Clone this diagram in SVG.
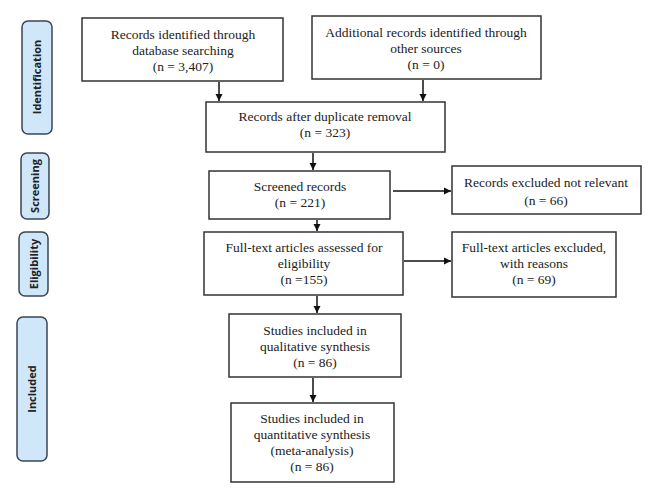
<svg xmlns="http://www.w3.org/2000/svg" width="660" height="502" viewBox="0 0 660 502">
<defs>
<style>
.box{fill:#fff;stroke:#333;stroke-width:1.5}
.side{fill:#cfe7f8;stroke:#3a4654;stroke-width:1.5}
.t{font-family:"Liberation Serif","Times New Roman",serif;font-size:13.5px;fill:#222;text-anchor:middle}
.s{font-family:"Open Sans","Liberation Sans",sans-serif;font-weight:bold;font-size:11px;fill:#222;text-anchor:middle}
.c{stroke:#111;stroke-width:1.5;fill:none;marker-end:url(#ah)}
</style>
<marker id="ah" markerWidth="8" markerHeight="8" refX="7" refY="4" orient="auto" markerUnits="userSpaceOnUse">
<path d="M0,0.5 L7,4 L0,7.5 Z" fill="#111"/>
</marker>
</defs>
<rect width="660" height="502" fill="#fff"/>
<g id="stage-identification"><rect class="side" x="22" y="21" width="30" height="113" rx="6"/><text class="s" transform="translate(41,77) rotate(-90)">Identification</text></g>
<g id="stage-screening"><rect class="side" x="21" y="153" width="28" height="66" rx="6"/><text class="s" transform="translate(39,186) rotate(-90)">Screening</text></g>
<g id="stage-eligibility"><rect class="side" x="19" y="232" width="29" height="64" rx="6"/><text class="s" transform="translate(38,264) rotate(-90)">Eligibility</text></g>
<g id="stage-included"><rect class="side" x="17" y="317" width="30" height="144" rx="6"/><text class="s" transform="translate(36,389) rotate(-90)">Included</text></g>

<g id="n1"><rect class="box" x="82" y="18" width="201" height="63"/><text class="t" x="183" y="39">Records identified through</text><text class="t" x="183" y="55">database searching</text><text class="t" x="183" y="71">(n = 3,407)</text></g>
<g id="n2"><rect class="box" x="312" y="16" width="229" height="63"/><text class="t" x="426" y="37">Additional records identified through</text><text class="t" x="426" y="53">other sources</text><text class="t" x="426" y="69">(n = 0)</text></g>
<g id="n3"><rect class="box" x="206" y="102" width="239" height="50"/><text class="t" x="325" y="121">Records after duplicate removal</text><text class="t" x="325" y="137">(n = 323)</text></g>
<g id="n4"><rect class="box" x="209" y="171" width="181" height="48"/><text class="t" x="300" y="191">Screened records</text><text class="t" x="300" y="207">(n = 221)</text></g>
<g id="n5"><rect class="box" x="452" y="166" width="189" height="48"/><text class="t" x="546" y="187">Records excluded not relevant</text><text class="t" x="546" y="205">(n = 66)</text></g>
<g id="n6"><rect class="box" x="204" y="232" width="199" height="63"/><text class="t" x="304" y="252">Full-text articles assessed for</text><text class="t" x="304" y="268">eligibility</text><text class="t" x="304" y="284">(n =155)</text></g>
<g id="n7"><rect class="box" x="452" y="232" width="164" height="65"/><text class="t" x="534" y="252">Full-text articles excluded,</text><text class="t" x="534" y="268">with reasons</text><text class="t" x="534" y="284">(n = 69)</text></g>
<g id="n8"><rect class="box" x="229" y="314" width="172" height="63"/><text class="t" x="315" y="335">Studies included in</text><text class="t" x="315" y="351">qualitative synthesis</text><text class="t" x="315" y="367">(n = 86)</text></g>
<g id="n9"><rect class="box" x="231" y="403" width="163" height="79"/><text class="t" x="312" y="423">Studies included in</text><text class="t" x="312" y="439">quantitative synthesis</text><text class="t" x="312" y="455">(meta-analysis)</text><text class="t" x="312" y="471">(n = 86)</text></g>

<g id="connectors">
<line class="c" x1="219" y1="82" x2="219" y2="101"/>
<line class="c" x1="423" y1="80" x2="423" y2="101"/>
<line class="c" x1="313" y1="153" x2="313" y2="170"/>
<line class="c" x1="393" y1="191" x2="451" y2="191"/>
<line class="c" x1="317" y1="220" x2="317" y2="231"/>
<line class="c" x1="404" y1="261" x2="451" y2="261"/>
<line class="c" x1="317" y1="296" x2="317" y2="313"/>
<line class="c" x1="313" y1="378" x2="313" y2="402"/>
</g>
</svg>
